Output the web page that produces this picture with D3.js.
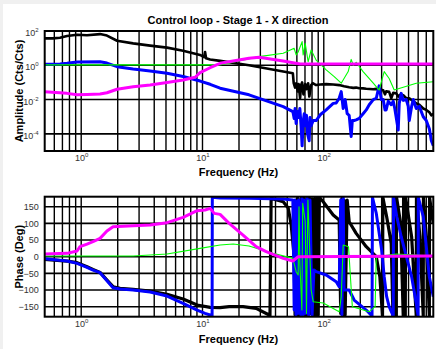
<!DOCTYPE html>
<html><head><meta charset="utf-8">
<script src="https://cdn.jsdelivr.net/npm/d3@7"></script>
<style>
html,body{margin:0;padding:0;background:#f0f0f0;}
svg{display:block;}
text{font-family:"Liberation Sans",Arial,Helvetica,sans-serif;}
</style></head>
<body><svg id="c" width="436" height="349"></svg>
<script>
// ---------- data ----------
const title = "Control loop - Stage 1 - X direction";
const ampTickExps = [2, 0, -2, -4];
const freqTickExps = [0, 1, 2];
const phaseTicks = [150, 100, 50, 0, -50, -100, -150];
const gridFreqs = [0.6,0.7,0.8,0.9,1,2,3,4,5,6,7,8,9,10,20,30,40,50,60,70,80,90,100,200,300,400,500,600,700];
const ampGrid = [1e0, 1e-2, 1e-4];

// amplitude [freq Hz, Cts/Cts]
const blackAmp = [[0.5,37],[0.585,37],[0.668,40],[0.764,51],[0.924,60],[1.117,56],[1.43,66],[1.63,54],[1.975,27],[2.68,19],[3.7,14],[5.1,10.7],[6.92,7.1],[9.55,4.0],[10.3,3.0],[10.5,6.0],[10.7,2.6],[11.56,2.2],[13.97,1.8],[24.2,1.0],[46.3,0.43],[55.6,0.34],[56.5,0.09],[58,0.05],[59.2,0.09],[61,0.03],[62,0.08],[63.8,0.012],[65,0.07],[66.3,0.1],[68,0.02],[70.3,0.08],[72,0.04],[74.3,0.09],[76,0.015],[78.7,0.07],[81,0.09],[86.5,0.07],[93.5,0.075],[104.7,0.08],[119.6,0.075],[134,0.07],[147,0.06],[162,0.052],[175,0.048],[185,0.05],[196,0.046],[211,0.045],[224,0.043],[256,0.04],[271,0.042],[286,0.04],[309,0.035],[320,0.02],[327,0.03],[346,0.028],[360,0.012],[374,0.025],[396,0.023],[411,0.015],[430,0.02],[452,0.018],[479,0.012],[507,0.012],[547,0.008],[579,0.006],[613,0.005],[661,0.003],[700,0.0025],[742,0.0018],[771,0.0012],[800,0.0015]];
const blueAmp = [[0.5,1.15],[0.668,1.2],[0.764,1.3],[0.924,1.55],[1.43,1.6],[1.63,1.35],[1.975,0.83],[2.68,0.6],[3.7,0.47],[5.1,0.34],[6.92,0.22],[9.55,0.12],[11.56,0.078],[13.97,0.046],[24.2,0.019],[46.3,0.0039],[55.6,0.002],[57,0.0008],[58,0.003],[59.2,0.0004],[60.5,0.002],[62,0.0009],[63.5,0.003],[65,0.0003],[66.3,0.00002],[67.6,0.0005],[69,0.0015],[70.3,0.0003],[72,0.0012],[73.5,0.0001],[75.8,0.00004],[77,0.0009],[78.7,0.0003],[81.8,0.0006],[86.5,0.0006],[93.5,0.0013],[104.7,0.0025],[119.6,0.006],[126.6,0.0063],[134,0.012],[139.3,0.029],[144.6,0.003],[150,0.01],[156,0.0015],[162,0.0012],[168.3,0.00007],[172,0.0006],[178,0.0006],[185,0.00065],[196,0.0008],[211,0.0015],[224,0.0025],[237,0.005],[256,0.01],[271,0.012],[286,0.063],[298,0.01],[309,0.01],[320,0.0025],[327,0.0025],[340,0.008],[360,0.005],[374,0.008],[385,0.003],[411,0.00017],[419,0.006],[435,0.023],[452,0.009],[479,0.01],[497,0.004],[507,0.0006],[530,0.004],[547,0.01],[579,0.003],[613,0.004],[661,0.001],[700,0.0006],[742,0.0002],[771,0.00004],[800,0.00002]];
const greenAmp = [[0.5,1.05],[13.97,1.05],[20,1.8],[29.3,3.2],[46.3,5],[57,9.8],[59.2,4],[61.5,6],[66.3,24],[67.6,4],[70.3,19],[74.3,1.6],[78.7,7.8],[86.5,2.0],[104.7,0.54],[121.9,0.22],[139.3,0.09],[159,0.43],[168.3,2.2],[175,1.0],[185,1.5],[211,0.43],[256,0.09],[286,0.036],[315,0.43],[346,0.17],[381,0.036],[452,0.052],[579,0.09],[800,0.11]];
const magentaAmp = [[0.5,0.029],[0.764,0.023],[0.924,0.019],[1.117,0.02],[1.43,0.021],[1.63,0.025],[1.975,0.04],[2.68,0.056],[3.7,0.071],[5.1,0.098],[6.92,0.138],[8.7,0.2],[9.55,0.37],[11.56,0.72],[13.97,1.3],[24.2,2.6],[29.3,2.95],[46.3,1.8],[63.8,1.2],[800,1.2]];

// phase [freq Hz, deg]
const blackPhase = [[0.5,-8],[0.764,-13],[0.924,-18],[1.117,-30],[1.25,-38],[1.43,-47],[1.63,-70],[1.83,-90],[2.09,-95],[2.68,-98],[3.7,-103],[5.1,-113],[6.92,-127],[9.03,-145],[11.56,-152],[13.97,-153],[16.6,-150],[21.6,-150],[27.7,-155],[35.5,-175],[36,-179],[36.8,175],[46.3,165],[50.9,146],[53.9,95],[57,0],[58,-175],[59,170],[60,-170],[61,175],[62,-178],[63,170],[64,-175],[65.5,178],[67,-170],[68.5,175],[70,-178],[72,170],[74,-175],[76,178],[78,-170],[80,172],[82,-176],[84,175],[86,-178],[88,176],[90,-175],[92,178],[98.9,165],[119.6,125],[134,110],[138,-170],[141,175],[144,-178],[147,170],[150,-175],[156,170],[162,105],[185,70],[224,30],[271,0],[290,-60],[305,-178],[307,178],[330,120],[360,40],[372,-178],[374,178],[390,-120],[396,-178],[398,178],[430,100],[452,-178],[455,178],[470,-178],[473,178],[530,60],[579,-178],[581,178],[620,60],[661,-178],[663,178],[700,60],[742,-178],[745,178],[800,100]];
const bluePhase = [[0.5,-6],[0.764,-13],[0.924,-20],[1.117,-32],[1.25,-40],[1.43,-48],[1.63,-72],[1.83,-93],[2.09,-97],[2.68,-100],[3.7,-106],[5.1,-118],[6.92,-140],[9.03,-160],[10.5,-170],[11.56,-175],[12.0,-179],[12.05,178],[13.97,176],[24.2,175],[46.3,173],[55.6,170],[57,-160],[58,170],[59,-175],[60,165],[61,-170],[62,170],[63,-170],[64,160],[65,-178],[66,175],[67.6,-175],[69,170],[71,-170],[73,175],[75,-175],[77,170],[80,-178],[83,-40],[86.5,-45],[104.7,-55],[126.6,-75],[134,-90],[138,170],[141,-175],[144.6,178],[147,-100],[162,-100],[178,-130],[224,-160],[250,-178],[252,178],[271,130],[300,20],[315,-60],[330,-120],[346,-150],[374,-178],[376,178],[400,120],[435,60],[480,0],[530,-60],[579,-140],[600,-178],[602,178],[661,120],[742,-60],[800,-120]];
const greenPhase = [[0.5,2],[2.68,2],[5.1,8],[9.55,25],[13.97,35],[17.9,38],[24.2,32],[38.3,10],[55.6,-5],[59.2,-45],[61.5,-55],[62.5,150],[63.5,-20],[66,-160],[67,160],[70.3,105],[72,-170],[74,170],[78.7,-100],[81.8,-135],[98.9,-139],[134,-165],[139.3,-120],[144.6,35],[160,30],[172,-150],[237,-165],[265,-150],[271,0],[396,8],[800,2]];
const magentaPhase = [[0.5,8],[0.764,10],[0.924,17],[0.977,30],[1.117,38],[1.25,45],[1.43,55],[1.63,77],[1.83,90],[2.68,93],[3.7,95],[5.1,102],[6.92,118],[9.03,138],[10.5,140],[11.56,145],[12.5,130],[13.97,127],[16.6,100],[21.6,65],[27.7,30],[33.5,15],[46.3,-5],[55.6,-13],[61.5,0],[800,2]];

// ---------- layout ----------
const svg = d3.select("#c");
const L = 44.7, R = 433.3;
const top1 = 31, bot1 = 151, top2 = 196.7, bot2 = 316.7;
const x = d3.scaleLog().domain([0.5, 800]).range([L, R]);
const yA = d3.scaleLog().domain([1e-5, 1e2]).range([bot1, top1]);
const yP = d3.scaleLinear().domain([-180, 180]).range([bot2, top2]);

svg.append("rect").attr("x",3).attr("y",4).attr("width",433).attr("height",345).attr("fill","#fff");

const defs = svg.append("defs");
defs.append("clipPath").attr("id","c1").append("rect").attr("x",L).attr("y",top1).attr("width",R-L).attr("height",bot1-top1);
defs.append("clipPath").attr("id","c2").append("rect").attr("x",L).attr("y",top2).attr("width",R-L).attr("height",bot2-top2);

function panel(yS, top, bot, hGrid, clipId, series) {
  const g = svg.append("g");
  g.selectAll(".vg").data(gridFreqs).enter().append("line")
    .attr("x1", d=>x(d)).attr("x2", d=>x(d)).attr("y1", top).attr("y2", bot)
    .attr("stroke","#000").attr("stroke-width",1.4);
  g.selectAll(".hg").data(hGrid).enter().append("line")
    .attr("x1", L).attr("x2", R).attr("y1", d=>yS(d)).attr("y2", d=>yS(d))
    .attr("stroke","#000").attr("stroke-width",1.6);
  const lg = g.append("g").attr("clip-path","url(#"+clipId+")");
  series.forEach(s => {
    lg.append("path").datum(s.data)
      .attr("fill","none").attr("stroke",s.color).attr("stroke-width",s.w)
      .attr("stroke-linejoin","round")
      .attr("d", d3.line().x(d=>x(d[0])).y(d=>yS(d[1])));
  });
  g.append("rect").attr("x",L).attr("y",top).attr("width",R-L).attr("height",bot-top)
    .attr("fill","none").attr("stroke","#000").attr("stroke-width",2);
  return g;
}

panel(yA, top1, bot1, ampGrid, "c1", [
  {data: blackAmp, color:"#000", w:2.6},
  {data: blueAmp, color:"#0000ff", w:3},
  {data: greenAmp, color:"#00ff00", w:1.1},
  {data: magentaAmp, color:"#ff00ff", w:3}
]);
panel(yP, top2, bot2, phaseTicks, "c2", [
  {data: blackPhase, color:"#000", w:3.2},
  {data: bluePhase, color:"#0000ff", w:3},
  {data: greenPhase, color:"#00ff00", w:1.1},
  {data: magentaPhase, color:"#ff00ff", w:3}
]);

// ---------- axes / labels ----------
function pow10Label(sel) {
  sel.each(function(d){
    const e = Math.round(Math.log10(d));
    const t = d3.select(this).text(null);
    t.append("tspan").text("10");
    t.append("tspan").attr("dy",-4).attr("font-size","6px").text(e);
  });
}
const tickColor = "#333";
const ay = svg.append("g").attr("transform","translate("+L+",0)")
  .call(d3.axisLeft(yA).tickValues(ampTickExps.map(e=>Math.pow(10,e))).tickSize(0).tickPadding(6));
ay.select(".domain").remove();
ay.selectAll(".tick text").attr("font-size","9px").attr("fill",tickColor).attr("dy","0.5em")
  .attr("font-family","Liberation Sans, Arial, sans-serif").call(pow10Label);

[bot1, bot2].forEach(b => {
  const ax = svg.append("g").attr("transform","translate(0,"+b+")")
    .call(d3.axisBottom(x).tickValues(freqTickExps.map(e=>Math.pow(10,e))).tickSize(0).tickPadding(4));
  ax.select(".domain").remove();
  ax.selectAll(".tick text").attr("font-size","9px").attr("fill",tickColor).attr("dy","0.71em")
    .attr("font-family","Liberation Sans, Arial, sans-serif").call(pow10Label);
});

const ap = svg.append("g").attr("transform","translate("+L+",0)")
  .call(d3.axisLeft(yP).tickValues(phaseTicks).tickSize(0).tickPadding(6));
ap.select(".domain").remove();
ap.selectAll(".tick text").attr("font-size","9px").attr("fill",tickColor)
  .attr("font-family","Liberation Sans, Arial, sans-serif");

svg.append("text").attr("x",238).attr("y",24).attr("text-anchor","middle")
  .attr("font-size","11px").attr("font-weight","bold").text(title);
svg.append("text").attr("x",238.5).attr("y",176).attr("text-anchor","middle")
  .attr("font-size","11px").attr("font-weight","bold").text("Frequency (Hz)");
svg.append("text").attr("x",238.5).attr("y",343).attr("text-anchor","middle")
  .attr("font-size","11px").attr("font-weight","bold").text("Frequency (Hz)");
svg.append("text").attr("transform","translate(23,"+((top1+bot1)/2)+") rotate(-90)").attr("text-anchor","middle")
  .attr("font-size","11px").attr("font-weight","bold").text("Amplitude (Cts/Cts)");
svg.append("text").attr("transform","translate(23,"+((top2+bot2)/2)+") rotate(-90)").attr("text-anchor","middle")
  .attr("font-size","11px").attr("font-weight","bold").text("Phase (Deg)");
</script></body></html>
